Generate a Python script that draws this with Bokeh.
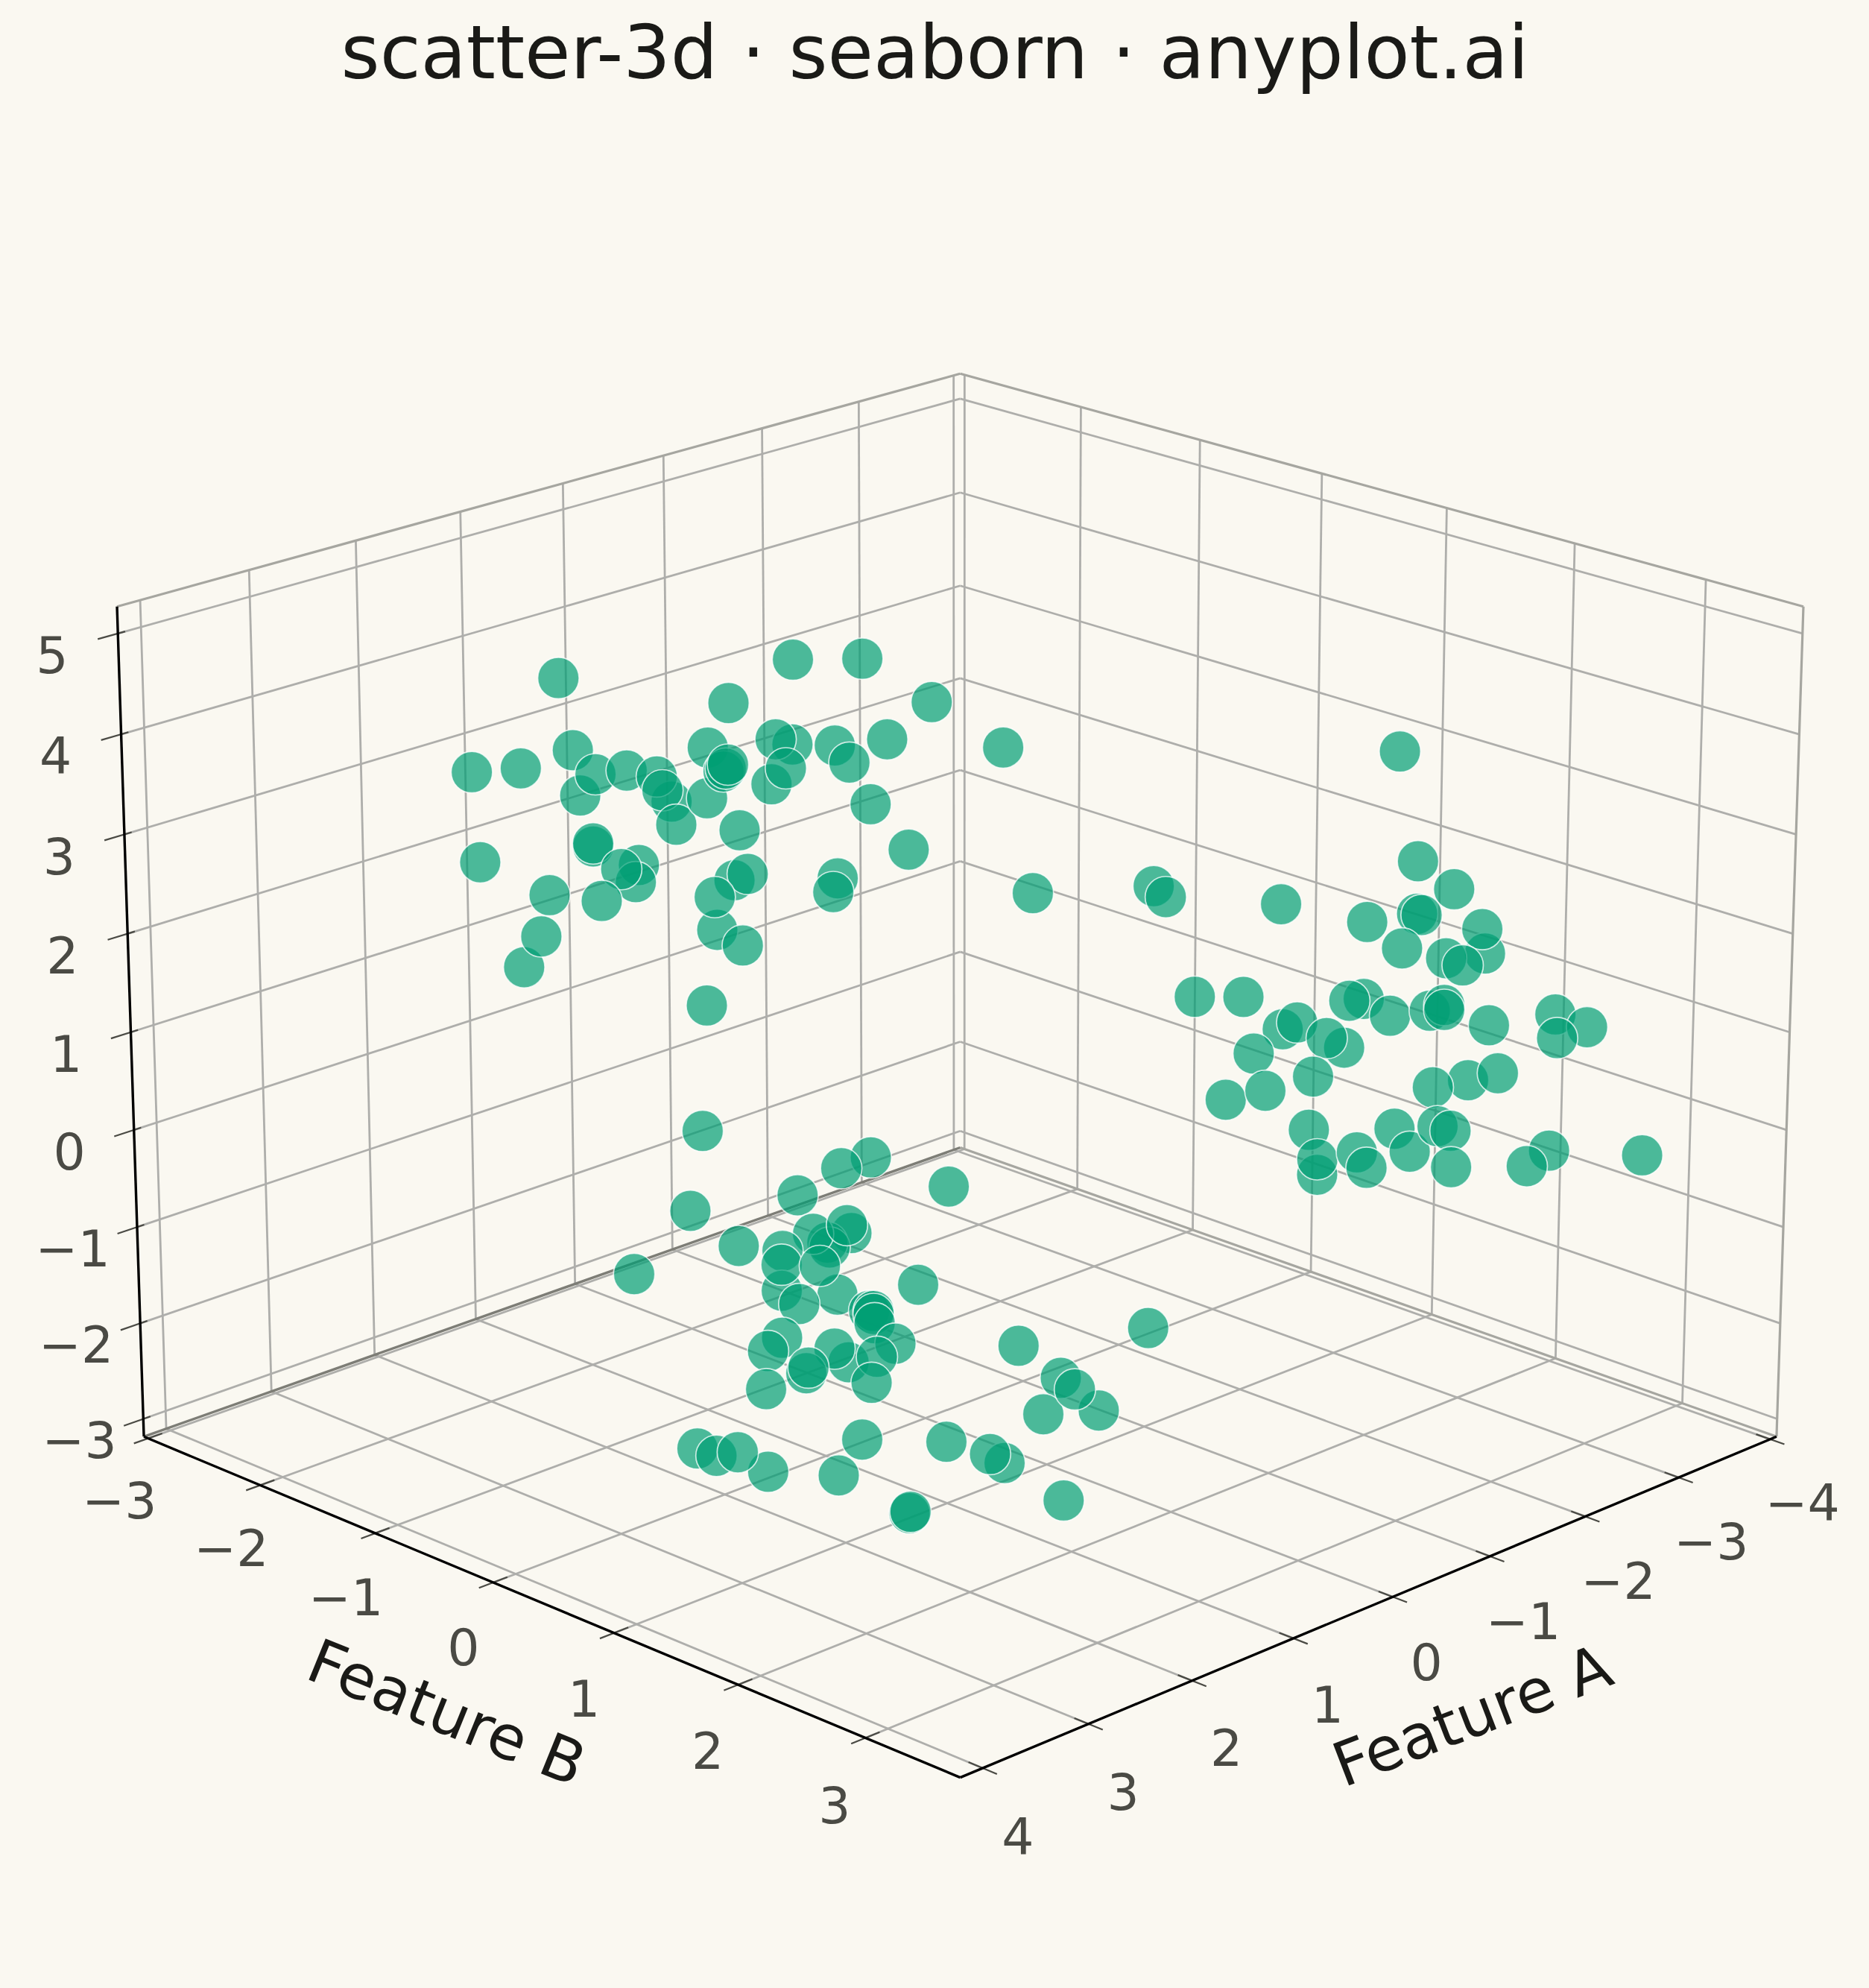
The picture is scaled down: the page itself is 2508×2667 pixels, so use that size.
import math
from bokeh.plotting import figure
from bokeh.models import Range1d
from bokeh.embed import file_html
from bokeh.resources import INLINE
from bokeh.core.properties import value

title = "scatter-3d · seaborn · anyplot.ai"
x_label = "Feature A"
y_label = "Feature B"

a_ticks = [-4, -3, -2, -1, 0, 1, 2, 3, 4]
b_ticks = [-3, -2, -1, 0, 1, 2, 3]
z_ticks = [-3, -2, -1, 0, 1, 2, 3, 4, 5]
a_lim = (-4.07, 4.21)
b_lim = (-3.038, 3.728)
z_lim = (-3.186, 5.266)

feature_a = [2.05, 1.21, .89, 1.98, 2.48, 2.24, 1.95, 1.87, 1.72, 1.50, 1.57, 1.54, 1.48, 1.32, 1.32, 1.24, 1.23, 1.22,
             .90, .98, 1.00, .93, 2.45, 1.89, 1.89, 1.66, 1.68, 1.75, 2.11, 1.85, 2.24, 2.15, 1.16, 1.19, 1.12, 1.28,
             1.29, 1.15, 1.33, .55, .21, .69, .62, .43, .51, .33, .68, .70, -.14, -.29,
             -2.10, -2.20, -2.38, -.89, -.95, -1.52, -1.95, -2.20, -2.22, -2.54, -2.52, -2.13, -2.35, -2.43, -1.10,
             -1.34, -1.94, -1.87, -2.07, -2.27, -2.34, -2.34, -2.57, -2.90, -3.06, -2.91, -1.54, -1.61, -1.85, -1.76,
             -1.40, -1.26, -1.46, -1.69, -2.47, -2.29, -2.62, -1.68, -1.72, -1.72, -1.92, -1.97, -2.11, -2.18, -2.32,
             -2.39, -2.39, -2.88, -2.77, -3.35,
             1.36, 1.43, 1.18, 1.71, .52, .67, .89, .13, .62, .74, .73, .81, .64, .96, .97, .69, .97, .88, .78, .28,
             .53, .51, .51, .50, .40, .97, 1.04, .63, .71, .85, .84, 1.05, .49, .52, -.88, -.22, -.44, -.35, -.63, -.51,
             2.79, 2.44, 2.69, 2.59, 1.98, 2.09, 1.57, 1.28, 1.35, .98, 1.75, 1.74]
feature_b = [-1.27, -.59, -.33, -1.22, -1.63, -1.43, -1.19, -1.13, -1.00, -.82, -.88, -.86, -.80, -.67, -.68, -.61, -.60, -.59,
             -.33, -.40, -.42, -.36, -1.60, -1.14, -1.14, -.96, -.97, -1.03, -1.32, -1.11, -1.43, -1.36, -.55, -.57, -.52, -.64,
             -.65, -.54, -.69, -.05, .23, -.16, -.10, .05, -.02, .14, -.15, -.17, .52, .64,
             2.12, 2.20, 2.35, 1.13, 1.18, 1.65, 2.00, 2.20, 2.22, 2.48, 2.47, 2.14, 2.32, 2.39, 1.30,
             1.50, 1.99, 1.93, 2.10, 2.26, 2.32, 2.32, 2.50, 2.77, 2.90, 2.78, 1.66, 1.72, 1.91, 1.84,
             1.54, 1.43, 1.59, 1.79, 2.42, 2.28, 2.54, 1.77, 1.81, 1.81, 1.97, 2.01, 2.12, 2.19, 2.30,
             2.35, 2.36, 2.76, 2.67, 3.14,
             -.71, -.76, -.57, -1.00, -.02, -.14, -.32, .30, -.10, -.20, -.19, -.26, -.12, -.39, -.39, -.16, -.39, -.32, -.23, .17,
             -.03, -.01, -.01, -.01, .08, -.39, -.45, -.12, -.17, -.29, -.28, -.46, .00, -.02, 1.12, .59, .76, .69, .92, .82,
             .46, .74, .53, .62, 1.12, 1.02, 1.46, 1.69, 1.63, 1.92, 1.31, 1.31]
feature_c = [4.56, 4.31, 4.74, 3.84, 3.62, 3.66, 3.39, 3.60, 3.64, 3.33, 3.58, 3.44, 3.10, 3.87, 3.36, 3.63, 3.66, 3.70,
             3.90, 3.95, 3.50, 3.66, 2.72, 2.88, 2.91, 2.69, 2.52, 2.65, 2.39, 2.33, 1.66, 1.97, 3.04, 2.54, 2.60, 2.04,
             2.37, 1.88, 1.27, 4.75, 4.32, 3.89, 3.72, 3.95, 3.30, 2.85, 2.56, 2.42, 3.87, 2.41,
             3.83, 2.73, 2.45, 2.48, 2.37, 2.30, 2.12, 2.20, 2.19, 1.80, 2.05, 1.85, 1.75, 1.68, 1.36,
             1.36, 1.34, 1.32, 1.17, 1.22, 1.28, 1.23, 1.07, 1.18, 1.05, .94, 1.03, 1.10, .84, .94,
             .78, .31, .40, .55, .51, .44, .58, .00, -.46, -.30, -.23, -.39, .01, -.22, .04,
             -.01, -.38, -.21, -.37, -.26,
             -.01, -.83, -1.20, -1.49, -.28, -.39, -.67, -.58, -1.06, -1.16, -1.21, -1.07, -.98, -1.25, -1.66, -1.70, -1.39, -1.80, -1.40, -1.60,
             -1.87, -1.87, -1.90, -2.00, -2.21, -2.15, -2.29, -2.41, -2.26, -2.52, -2.46, -2.69, -2.35, -2.62, -2.05, -2.23, -2.57, -2.95, -2.91, -2.69,
             -2.17, -2.41, -2.25, -2.21, -2.08, -2.45, -2.10, -2.32, -2.23, -2.71, -2.83, -2.82]

BG = "#FAF8F1"
INK = "#1A1A17"
SOFT = "#4A4A44"
GREEN = "#009E73"
GRID = "#AEAEAB"
PANE = "#A6A6A0"

EL = math.radians(20)
HALF_XY, HALF_Z = 0.5784, 0.4353
FOCAL, DIST = 12520.0, 9.2
CX, CY = 1288.0, 1379.0


def view(a, b, c):
    X = (a - sum(a_lim) / 2) / ((a_lim[1] - a_lim[0]) / 2) * HALF_XY
    Y = (b - sum(b_lim) / 2) / ((b_lim[1] - b_lim[0]) / 2) * HALF_XY
    Z = (c - sum(z_lim) / 2) / ((z_lim[1] - z_lim[0]) / 2) * HALF_Z
    across = (Y - X) / math.sqrt(2)
    along = (X + Y) / math.sqrt(2)
    toward = along * math.cos(EL) + Z * math.sin(EL)
    up = Z * math.cos(EL) - along * math.sin(EL)
    return across, up, DIST / (DIST - toward)


def project(a, b, c):
    across, up, k = view(a, b, c)
    scale = FOCAL / DIST * k
    return CX + across * scale, CY - up * scale


def segs(pairs, color, width, target):
    xs0, ys0, xs1, ys1 = [], [], [], []
    for p0, p1 in pairs:
        u0, v0 = project(*p0)
        u1, v1 = project(*p1)
        xs0.append(u0); ys0.append(v0); xs1.append(u1); ys1.append(v1)
    target.segment(xs0, ys0, xs1, ys1, line_color=color, line_width=width, line_cap="butt")


p = figure(width=2492, height=2651, x_range=Range1d(0, 2492), y_range=Range1d(2651, 0),
           output_backend="svg", toolbar_location=None, min_border=0,
           background_fill_color=BG, border_fill_color=BG, outline_line_color=None)
p.axis.visible = False
p.grid.visible = False

amin, amax = a_lim
bmin, bmax = b_lim
zmin, zmax = z_lim

grid = []
for t in a_ticks:
    grid.append(((t, bmin, zmin), (t, bmax, zmin)))
    grid.append(((t, bmin, zmin), (t, bmin, zmax)))
for t in b_ticks:
    grid.append(((amin, t, zmin), (amax, t, zmin)))
    grid.append(((amin, t, zmin), (amin, t, zmax)))
for t in z_ticks:
    grid.append(((amax, bmin, t), (amin, bmin, t)))
    grid.append(((amin, bmin, t), (amin, bmax, t)))
segs(grid, GRID, 2.8, p)

segs([((amin, bmin, zmax), (amax, bmin, zmax)),
      ((amin, bmin, zmax), (amin, bmax, zmax)),
      ((amin, bmax, zmin), (amin, bmax, zmax)),
      ((amin, bmin, zmin), (amin, bmax, zmin))], PANE, 3.2, p)
segs([((amin, bmin, zmin), (amax, bmin, zmin))], "#7D7D76", 3.4, p)

da = amax - amin
db = bmax - bmin
tick_pairs = []
for t in a_ticks:
    tick_pairs.append(((t, bmax - .016 * db, zmin), (t, bmax + .016 * db, zmin)))
for t in b_ticks:
    tick_pairs.append(((amax - .016 * da, t, zmin), (amax + .016 * da, t, zmin)))
for t in z_ticks:
    tick_pairs.append(((amax - .008 * da, bmin, t), (amax + .022 * da, bmin, t)))
segs(tick_pairs, SOFT, 2.2, p)

segs([((amax, bmin, zmin), (amax, bmin, zmax)),
      ((amax, bmin, zmin), (amax, bmax, zmin)),
      ((amax, bmax, zmin), (amin, bmax, zmin))], "#000000", 3.4, p)

pts = [project(a, b, c) for a, b, c in zip(feature_a, feature_b, feature_c)]
p.scatter([q[0] for q in pts], [q[1] for q in pts], size=55.5, marker="circle",
          fill_color=GREEN, fill_alpha=0.7, line_color="#FFFFFF", line_alpha=0.75, line_width=1.7)


def text_at(texts, xs, ys, size, color, angle=0.0):
    p.text(xs, ys, text=texts, angle=angle, angle_units="deg",
           text_align="center", text_baseline="middle", text_font=value("DejaVu Sans"),
           text_font_size=size, text_color=color)


def tick_labels(ticks, points, dx, dy):
    xs, ys = [], []
    for pt in points:
        u, v = project(*pt)
        k = view(*pt)[2]
        xs.append(u + dx * k)
        ys.append(v + dy * k)
    text_at([str(t).replace("-", "\u2212") for t in ticks], xs, ys, "68px", SOFT)


tick_labels(a_ticks, [(t, bmax, zmin) for t in a_ticks], 44, 85)
tick_labels(b_ticks, [(amax, t, zmin) for t in b_ticks], -39, 84)
tick_labels(z_ticks, [(amax, bmin, t) for t in z_ticks], -87, 28)

text_at([x_label], [1975], [2301], "82px", INK, angle=21)
text_at([y_label], [599], [2297], "82px", INK, angle=-22)
text_at([title], [1254], [70], "99.9px", INK)

html = file_html(p, INLINE)
html = html.replace("</head>", "<style>html,body{background:%s;}</style></head>" % BG, 1)
open("out.html", "w").write(html)
